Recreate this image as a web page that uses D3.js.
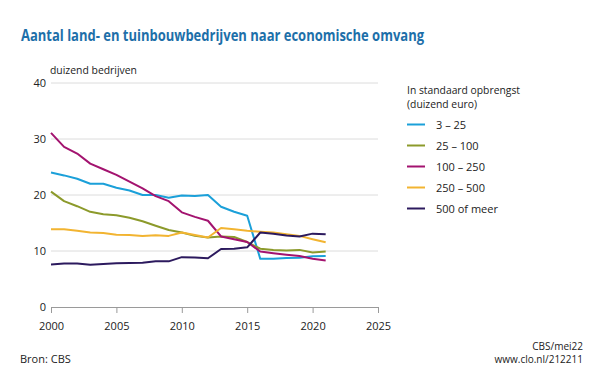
<!DOCTYPE html>
<html>
<head>
<meta charset="utf-8">
<script src="https://cdn.jsdelivr.net/npm/d3@7"></script>
<style>
  html, body { margin: 0; padding: 0; background: #fff; }
  svg { display: block; font-family: "Open Sans", "Noto Sans", sans-serif; }
</style>
</head>
<body>
<svg id="chart" width="600" height="370"></svg>
<script>
const years = d3.range(2000, 2022);
const seriesNames = ["3 \u2013 25", "25 \u2013 100", "100 \u2013 250", "250 \u2013 500", "500 of meer"];
const seriesColors = ["#1ba0d9", "#8c9a2b", "#a3136f", "#f2b431", "#2c1a5e"];
const s3_25 = [24.0, 23.5, 22.9, 22.0, 22.0, 21.3, 20.8, 20.0, 20.0, 19.5, 19.9, 19.8, 20.0, 17.9, 17.0, 16.3, 8.6, 8.6, 8.75, 8.8, 9.05, 9.1];
const s25_100 = [20.6, 18.9, 18.0, 17.0, 16.55, 16.4, 15.95, 15.3, 14.5, 13.75, 13.3, 12.7, 12.4, 12.6, 12.5, 11.6, 10.4, 10.2, 10.1, 10.2, 9.75, 9.9];
const s100_250 = [31.1, 28.6, 27.4, 25.6, 24.6, 23.6, 22.4, 21.2, 19.8, 18.9, 16.9, 16.1, 15.4, 12.6, 12.1, 11.6, 9.9, 9.6, 9.35, 9.1, 8.6, 8.3];
const s250_500 = [13.9, 13.9, 13.6, 13.3, 13.2, 12.9, 12.85, 12.7, 12.8, 12.7, 13.3, 12.85, 12.4, 14.1, 13.9, 13.6, 13.45, 13.3, 13.0, 12.7, 12.1, 11.55];
const s500plus = [7.6, 7.75, 7.75, 7.55, 7.7, 7.8, 7.85, 7.9, 8.15, 8.15, 8.9, 8.85, 8.7, 10.35, 10.4, 10.65, 13.3, 13.1, 12.75, 12.6, 13.1, 13.0];
const seriesValues = [s3_25, s25_100, s100_250, s250_500, s500plus];
const xTicks = [2000, 2005, 2010, 2015, 2020, 2025];
const yTicks = [0, 10, 20, 30, 40];

const svg = d3.select("#chart");
const x = d3.scaleLinear().domain([2000, 2025]).range([51, 378]);
const y = d3.scaleLinear().domain([0, 40]).range([307, 83]);

// Title
svg.append("text").attr("x", 21).attr("y", 41)
  .attr("fill", "#1d6fa9").attr("font-weight", "bold").attr("font-size", 15.5)
  .attr("textLength", 403).attr("lengthAdjust", "spacingAndGlyphs")
  .text("Aantal land- en tuinbouwbedrijven naar economische omvang");

svg.append("text").attr("x", 50).attr("y", 74)
  .attr("fill", "#222").attr("font-size", 11)
  .attr("textLength", 87).attr("lengthAdjust", "spacingAndGlyphs")
  .text("duizend bedrijven");

// gridlines
svg.append("g").selectAll("line").data(yTicks.filter(d => d > 0)).join("line")
  .attr("x1", x(2000)).attr("x2", x(2025))
  .attr("y1", d => y(d)).attr("y2", d => y(d))
  .attr("stroke", "#dcdcdc").attr("stroke-width", 1);

// y labels
svg.append("g").selectAll("text").data(yTicks).join("text")
  .attr("x", 46).attr("y", d => y(d) + 4)
  .attr("text-anchor", "end").attr("font-size", 11).attr("fill", "#222")
  .text(d => d);

// x axis
const xAxis = d3.axisBottom(x).tickValues(xTicks).tickFormat(d3.format("d")).tickSize(6).tickPadding(9);
const gx = svg.append("g").attr("transform", `translate(0,${y(0)})`).call(xAxis);
gx.select(".domain").attr("stroke", "#9a9a9a");
gx.selectAll(".tick line").attr("stroke", "#9a9a9a");
gx.selectAll(".tick text").attr("font-size", 11).attr("fill", "#222")
  .attr("font-family", "\"Open Sans\", \"Noto Sans\", sans-serif");

// lines
const line = d3.line().x((d, i) => x(years[i])).y(d => y(d));
svg.append("g").selectAll("path").data(seriesValues).join("path")
  .attr("d", d => line(d)).attr("fill", "none")
  .attr("stroke", (d, i) => seriesColors[i]).attr("stroke-width", 2)
  .attr("stroke-linejoin", "round");

// legend
const lg = svg.append("g");
lg.append("text").attr("x", 407).attr("y", 94).attr("font-size", 11).attr("fill", "#222")
  .attr("textLength", 113).attr("lengthAdjust", "spacingAndGlyphs").text("In standaard opbrengst");
lg.append("text").attr("x", 407).attr("y", 108).attr("font-size", 11).attr("fill", "#222")
  .attr("textLength", 70).attr("lengthAdjust", "spacingAndGlyphs").text("(duizend euro)");
const items = lg.selectAll("g.item").data(seriesNames).join("g").attr("class", "item")
  .attr("transform", (d, i) => `translate(0,${124.5 + i * 21})`);
items.append("line").attr("x1", 407).attr("x2", 425).attr("y1", 0).attr("y2", 0)
  .attr("stroke", (d, i) => seriesColors[i]).attr("stroke-width", 2);
items.append("text").attr("x", 436).attr("y", 4).attr("font-size", 11).attr("fill", "#222").text(d => d);

// footer
svg.append("text").attr("x", 20).attr("y", 363).attr("font-size", 11).attr("fill", "#222").text("Bron: CBS");
svg.append("text").attr("x", 583).attr("y", 350).attr("font-size", 10).attr("text-anchor", "end").attr("fill", "#222").text("CBS/mei22");
svg.append("text").attr("x", 583).attr("y", 363).attr("font-size", 10).attr("text-anchor", "end").attr("fill", "#222").text("www.clo.nl/212211");
</script>
</body>
</html>
